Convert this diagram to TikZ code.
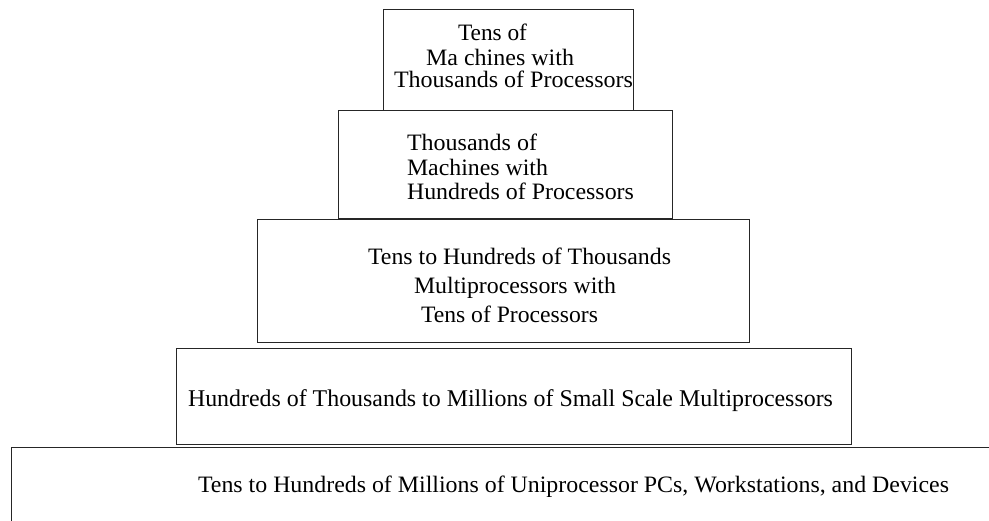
\documentclass[tikz,border=0pt]{standalone}
\usepackage{fontspec}
\setmainfont{Liberation Serif}
\usepackage{graphicx}
\newcommand{\fitline}[2]{\resizebox{#1pt}{\height}{#2}}
\begin{document}
\begin{tikzpicture}[x=1pt,y=-1pt,
  tier/.style={draw=black!85,line width=1pt},
  lbl/.style={anchor=base west,inner sep=0pt,outer sep=0pt,font=\fontsize{23.5}{28}\selectfont}]
\useasboundingbox (0,0) rectangle (989,520);
% tiers
\draw[tier] (383,9) rectangle (633,110);
\draw[tier] (338,110) rectangle (672,218);
\draw[tier] (257,219) rectangle (749,342);
\draw[tier] (176,348) rectangle (851,444);
\draw[tier] (995,447) -- (11,447) -- (11,525);
% tier 1
\node[lbl] (t1a) at (458,40) {\fitline{69}{Tens of}};
\node[lbl] (t1b) at (426,65) {\fitline{148}{Ma chines with}};
\node[lbl] (t1c) at (394,87) {\fitline{239}{Thousands of Processors}};
% tier 2
\node[lbl] (t2a) at (407,150) {\fitline{130}{Thousands of}};
\node[lbl] (t2b) at (407,175) {\fitline{141}{Machines with}};
\node[lbl] (t2c) at (407,199) {\fitline{227}{Hundreds of Processors}};
% tier 3
\node[lbl] (t3a) at (368,264) {\fitline{303}{Tens to Hundreds of Thousands}};
\node[lbl] (t3b) at (414,293) {\fitline{202}{Multiprocessors with}};
\node[lbl] (t3c) at (421,322) {\fitline{177}{Tens of Processors}};
% tier 4
\node[lbl,font=\fontsize{24}{28}\selectfont] (t4) at (188,406) {\fitline{645}{Hundreds of Thousands to Millions of Small Scale Multiprocessors}};
% tier 5
\node[lbl] (t5) at (198,492) {\fitline{751}{Tens to Hundreds of Millions of Uniprocessor PCs, Workstations, and Devices}};
\end{tikzpicture}
\end{document}
